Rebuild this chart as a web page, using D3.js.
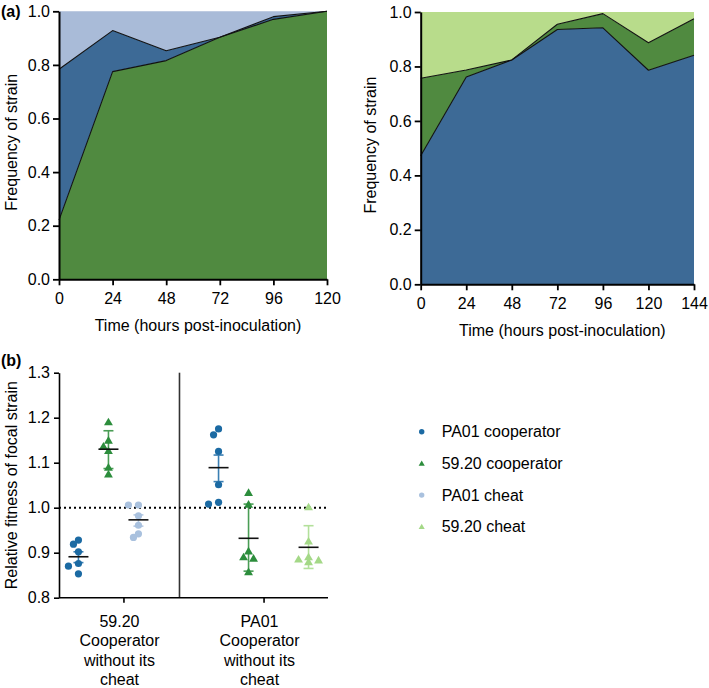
<!DOCTYPE html>
<html>
<head>
<meta charset="utf-8">
<script src="https://cdn.jsdelivr.net/npm/d3@7"></script>
<style>
  body { margin: 0; background: #fff; }
  svg { display: block; font-family: "Liberation Sans", Arial, Helvetica, sans-serif; }
  .axis path, .axis line { stroke: #000; }
  .axis text { font-size: 16px; fill: #000; font-family: "Liberation Sans", Arial, sans-serif; }
</style>
</head>
<body>
<svg id="chart" width="709" height="688"></svg>
<script>
// ---------- Panel (a) left ----------
const leftTime = [0, 24, 48, 72, 96, 120];
const leftKeys = ["59.20 cooperator", "PA01 cooperator", "PA01 cheat"];
const left5920Coop = [0.221, 0.775, 0.816, 0.903, 0.970, 1.000];
const leftPA01Coop = [0.563, 0.153, 0.037, 0.000, 0.010, 0.000];
const leftPA01Cheat = [0.216, 0.072, 0.147, 0.097, 0.020, 0.000];

// ---------- Panel (a) right ----------
const rightTime = [0, 24, 48, 72, 96, 120, 144];
const rightKeys = ["PA01 cooperator", "59.20 cooperator", "59.20 cheat"];
const rightPA01Coop = [0.472, 0.761, 0.824, 0.936, 0.942, 0.786, 0.841];
const right5920Coop = [0.285, 0.026, 0.000, 0.019, 0.052, 0.101, 0.134];
const right5920Cheat = [0.243, 0.213, 0.176, 0.045, 0.006, 0.113, 0.025];

const freqTicks = [0, 0.2, 0.4, 0.6, 0.8, 1.0];

// ---------- Panel (b) ----------
const groups = ["59.20|Cooperator|without its|cheat", "PA01|Cooperator|without its|cheat"];
const seriesNames = ["PA01 cooperator", "59.20 cooperator", "PA01 cheat", "59.20 cheat"];
const fitnessTicks = [0.8, 0.9, 1.0, 1.1, 1.2, 1.3];
const g1PA01Coop = [0.928, 0.919, 0.902, 0.876, 0.870, 0.853];
const g15920Coop = [1.191, 1.150, 1.137, 1.127, 1.090, 1.075];
const g1PA01Cheat = [1.006, 1.006, 0.982, 0.961, 0.934, 0.942];
const g2PA01Coop = [1.175, 1.162, 1.125, 1.051, 1.008, 1.012];
const g25920Coop = [1.034, 1.008, 0.891, 0.904, 0.888, 0.858];
const g25920Cheat = [1.002, 0.926, 0.891, 0.886, 0.884, 0.880];
// summary: mean, lower, upper
const g1PA01CoopSum = [0.891, 0.878, 0.902];
const g15920CoopSum = [1.130, 1.087, 1.171];
const g1PA01CheatSum = [0.973, 0.959, 0.984];
const g2PA01CoopSum = [1.089, 1.058, 1.117];
const g25920CoopSum = [0.932, 0.859, 1.008];
const g25920CheatSum = [0.912, 0.865, 0.960];

const svg = d3.select("#chart");

const areaCol = {
  "59.20 cooperator": "#508a40",
  "PA01 cooperator": "#3d6a96",
  "PA01 cheat": "#a9bbd8",
  "59.20 cheat": "#b8dc8b"
};
const ptCol = {
  "PA01 cooperator": "#1b6aa3",
  "59.20 cooperator": "#2c8d3c",
  "PA01 cheat": "#a9c1de",
  "59.20 cheat": "#a4d887"
};
const barCol = {
  "PA01 cooperator": "#3a7fb3",
  "59.20 cooperator": "#4a9d55",
  "PA01 cheat": "#b5c9e2",
  "59.20 cheat": "#b3e09b"
};

function stackedPanel(opts) {
  const { times, keys, cols, x0, x1, y0, y1, xMax, titleX, titleY } = opts;
  const x = d3.scaleLinear().domain([0, xMax]).range([x0, x1]);
  const y = d3.scaleLinear().domain([0, 1]).range([y0, y1]);
  const rows = times.map((t, i) => {
    const r = { t };
    keys.forEach((k, j) => r[k] = cols[j][i]);
    return r;
  });
  const stacked = d3.stack().keys(keys)(rows);
  const g = svg.append("g");
  const area = d3.area().x(d => x(d.data.t)).y0(d => y(d[0])).y1(d => y(Math.min(1, d[1])));
  g.selectAll("path.layer").data(stacked).join("path")
    .attr("class", "layer")
    .attr("d", area)
    .attr("fill", d => areaCol[d.key]);
  const line = d3.line().x(d => x(d.data.t)).y(d => y(d[1]));
  g.selectAll("path.edge").data(stacked.slice(0, 2)).join("path")
    .attr("class", "edge")
    .attr("d", line)
    .attr("fill", "none")
    .attr("stroke", "#111")
    .attr("stroke-width", 1.1)
    .attr("stroke-linejoin", "round");
  const ya = g.append("g").attr("class", "axis").attr("transform", `translate(${x0},0)`)
    .call(d3.axisLeft(y).tickValues(freqTicks).tickFormat(d3.format(".1f")).tickSize(6).tickPadding(3).tickSizeOuter(0));
  const xa = g.append("g").attr("class", "axis").attr("transform", `translate(0,${y0})`)
    .call(d3.axisBottom(x).tickValues(times).tickSize(6).tickPadding(7).tickSizeOuter(0));
  [ya, xa].forEach(a => {
    a.select(".domain").attr("stroke-width", 2);
    a.selectAll(".tick line").attr("stroke-width", 1.8);
  });
  g.append("text").attr("transform", `translate(${titleX},${(y0 + y1) / 2 - 3}) rotate(-90)`)
    .attr("text-anchor", "middle").attr("dominant-baseline", "central")
    .attr("font-size", 16).text("Frequency of strain");
  g.append("text").attr("x", (x0 + x1) / 2 + 5).attr("y", titleY)
    .attr("text-anchor", "middle").attr("font-size", 16)
    .text("Time (hours post-inoculation)");
}

stackedPanel({
  times: leftTime, keys: leftKeys, cols: [left5920Coop, leftPA01Coop, leftPA01Cheat],
  x0: 59, x1: 327, y0: 279.3, y1: 11.3, xMax: 120, titleX: 11, titleY: 331
});
stackedPanel({
  times: rightTime, keys: rightKeys, cols: [rightPA01Coop, right5920Coop, right5920Cheat],
  x0: 420.7, x1: 694, y0: 284.3, y1: 12, xMax: 144, titleX: 370, titleY: 336
});

svg.append("text").attr("x", 1).attr("y", 17).attr("font-size", 16).attr("font-weight", "bold").text("(a)");
svg.append("text").attr("x", 1).attr("y", 366).attr("font-size", 16).attr("font-weight", "bold").text("(b)");

// ---------- Panel (b) ----------
const bx0 = 59, bx1 = 328, by0 = 597.7, by1 = 372.7;
const yb = d3.scaleLinear().domain([0.8, 1.3]).range([by0, by1]);
const xg = d3.scalePoint().domain(groups).range([bx0, bx1]).padding(0.46);
const xs = d3.scalePoint().domain(seriesNames).range([-45, 45]);

const pb = svg.append("g");
const divX = xg(groups[0]) + xg.step() * 0.4;
pb.append("line").attr("x1", divX).attr("x2", divX).attr("y1", by1).attr("y2", by0)
  .attr("stroke", "#333").attr("stroke-width", 1.6);
pb.append("line").attr("x1", bx0).attr("x2", bx1).attr("y1", yb(1)).attr("y2", yb(1))
  .attr("stroke", "#000").attr("stroke-width", 2).attr("stroke-dasharray", "2,3");

const sets = [
  [0, 0, g1PA01Coop, g1PA01CoopSum],
  [0, 1, g15920Coop, g15920CoopSum],
  [0, 2, g1PA01Cheat, g1PA01CheatSum],
  [1, 0, g2PA01Coop, g2PA01CoopSum],
  [1, 1, g25920Coop, g25920CoopSum],
  [1, 3, g25920Cheat, g25920CheatSum]
];

const tri = d3.symbol().type(d3.symbolTriangle).size(34);
sets.forEach(([gi, si, vals, sum]) => {
  const s = seriesNames[si];
  const cx = xg(groups[gi]) + xs(s);
  const col = barCol[s];
  pb.append("line").attr("x1", cx).attr("x2", cx).attr("y1", yb(sum[1])).attr("y2", yb(sum[2]))
    .attr("stroke", col).attr("stroke-width", 1.6);
  [sum[1], sum[2]].forEach(v => pb.append("line").attr("x1", cx - 5).attr("x2", cx + 5)
    .attr("y1", yb(v)).attr("y2", yb(v)).attr("stroke", col).attr("stroke-width", 1.6));
  const placed = [];
  const order = vals.map((v, i) => i).sort((a, b) => vals[b] - vals[a]);
  order.forEach(i => {
    const py = yb(vals[i]);
    const cands = [0, -5, 5, -10, 10];
    let off = 0;
    for (const c of cands) {
      if (placed.every(p => Math.hypot(p[0] - c, p[1] - py) >= 6)) { off = c; break; }
    }
    placed.push([off, py]);
  });
  const isTri = s.startsWith("59.20");
  placed.forEach(([off, py]) => {
    if (isTri) {
      pb.append("path").attr("d", tri).attr("transform", `translate(${cx + off},${py + 1})`)
        .attr("fill", ptCol[s]);
    } else {
      pb.append("circle").attr("cx", cx + off).attr("cy", py).attr("r", 3.6).attr("fill", ptCol[s]);
    }
  });
  pb.append("line").attr("x1", cx - 10).attr("x2", cx + 10).attr("y1", yb(sum[0])).attr("y2", yb(sum[0]))
    .attr("stroke", "#111").attr("stroke-width", 1.6);
});

const yba = pb.append("g").attr("class", "axis").attr("transform", `translate(${bx0},0)`)
  .call(d3.axisLeft(yb).tickValues(fitnessTicks).tickFormat(d3.format(".1f")).tickSize(5).tickPadding(4).tickSizeOuter(0));
const xba = pb.append("g").attr("class", "axis").attr("transform", `translate(0,${by0})`)
  .call(d3.axisBottom(xg).tickSize(5).tickSizeOuter(0).tickFormat(""));
xba.select(".domain").attr("d", `M${bx0},0H${bx1}`);
[yba, xba].forEach(a => {
  a.select(".domain").attr("stroke-width", 1.6);
  a.selectAll(".tick line").attr("stroke-width", 1.6);
});
groups.forEach(gname => {
  const t = pb.append("text").attr("text-anchor", "middle").attr("font-size", 16);
  gname.split("|").forEach((ln, i) => {
    t.append("tspan").attr("x", xg(gname) - 4).attr("y", 627 + i * 19.3).text(ln);
  });
});
pb.append("text").attr("transform", `translate(11,${(by0 + by1) / 2}) rotate(-90)`)
  .attr("text-anchor", "middle").attr("dominant-baseline", "central")
  .attr("font-size", 16).text("Relative fitness of focal strain");

const leg = svg.append("g");
seriesNames.forEach((s, i) => {
  const ly = 431.7 + i * 31.7;
  if (s.startsWith("59.20")) {
    leg.append("path").attr("d", d3.symbol().type(d3.symbolTriangle).size(16))
      .attr("transform", `translate(421.7,${ly + 0.5})`).attr("fill", ptCol[s]);
  } else {
    leg.append("circle").attr("cx", 421.7).attr("cy", ly).attr("r", 2.7).attr("fill", ptCol[s]);
  }
  leg.append("text").attr("x", 441.7).attr("y", ly).attr("dominant-baseline", "central")
    .attr("font-size", 16).text(s);
});
</script>
</body>
</html>
